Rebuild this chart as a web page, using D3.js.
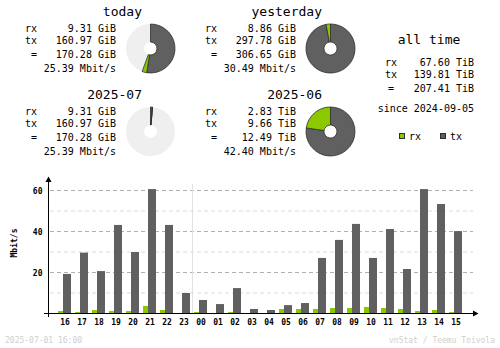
<!DOCTYPE html>
<html>
<head>
<meta charset="utf-8">
<script src="https://cdn.jsdelivr.net/npm/d3@7"></script>
<style>
  html, body { margin: 0; padding: 0; background: #fff; }
  svg { display: block; }
  text { font-family: "DejaVu Sans Mono", "Liberation Mono", monospace; fill: #000; }
</style>
</head>
<body>
<svg id="chart" width="500" height="348"></svg>
<script>
// ---- summary data (GiB unless noted) ----
const periodTitles = ["today", "yesterday", "2025-07", "2025-06"];
const periodRxGiB  = [9.31, 8.86, 9.31, 2.83 * 1024];
const periodTxGiB  = [160.97, 297.78, 160.97, 9.66 * 1024];
const periodRxText = ["9.31 GiB", "8.86 GiB", "9.31 GiB", "2.83 TiB"];
const periodTxText = ["160.97 GiB", "297.78 GiB", "160.97 GiB", "9.66 TiB"];
const periodTotText = ["170.28 GiB", "306.65 GiB", "170.28 GiB", "12.49 TiB"];
const periodRate   = ["25.39 Mbit/s", "30.49 Mbit/s", "25.39 Mbit/s", "42.40 Mbit/s"];

const allTimeRows = ["67.60 TiB", "139.81 TiB", "207.41 TiB"];
const sinceText = "since 2024-09-05";

// ---- hourly data (Mbit/s) ----
const hours = ["16","17","18","19","20","21","22","23","00","01","02","03",
               "04","05","06","07","08","09","10","11","12","13","14","15"];
const hourRx = [1.2, 0.7, 1.7, 1.2, 1.2, 3.7, 1.7, 0.1, 0.7, 0.1, 0.7, 0.1,
                0.1, 2.2, 2.2, 2.2, 2.7, 2.7, 3.2, 2.7, 2.2, 1.2, 1.7, 0.7];
const hourTx = [19.3, 29.7, 20.7, 43.2, 30.0, 60.7, 43.2, 10.0, 6.6, 4.6, 12.4, 2.2,
                1.7, 4.1, 5.1, 27.1, 35.9, 43.7, 27.1, 41.2, 21.7, 60.7, 53.4, 40.2];
const yTicks = [20, 40, 60];
const yMinorTicks = [10, 30, 50];

const footerLeft = "2025-07-01 16:00";
const footerRight = "vnStat / Teemu Toivola";

const RX = "#8cc800", TX = "#606060", EDGE = "#2e2e2e", PIE_BG = "#efefef";

const svg = d3.select("#chart");

// ---- summary blocks with donut pies ----
const blockPos = [[0, 0], [180, 0], [0, 83], [180, 83]];
const arc = d3.arc().innerRadius(6.5).outerRadius(24.5);

function drawBlock(i, maxTotal) {
  const [dx, dy] = blockPos[i];
  const g = svg.append("g").attr("transform", `translate(${dx},${dy})`);
  g.append("text").attr("x", 142).attr("y", 16).attr("text-anchor", "end")
    .style("font-size", "13px").text(periodTitles[i]);
  const rows = [["rx", periodRxText[i], 32], ["tx", periodTxText[i], 44], ["=", periodTotText[i], 58]];
  rows.forEach(([lab, val, y]) => {
    g.append("text").attr("x", lab === "=" ? 31 : 25).attr("y", y).style("font-size", "10px").text(lab);
    g.append("text").attr("x", 116).attr("y", y).attr("text-anchor", "end").style("font-size", "10px").text(val);
  });
  g.append("text").attr("x", 116).attr("y", 72).attr("text-anchor", "end").style("font-size", "10px").text(periodRate[i]);

  // donut: tx first from 12 o'clock, then rx; full circle = larger of the pair
  const k = 2 * Math.PI / maxTotal;
  const tx = periodTxGiB[i], rx = periodRxGiB[i];
  const pg = g.append("g").attr("transform", "translate(150.5,48.5)");
  pg.append("path").attr("d", arc({startAngle: 0, endAngle: 2 * Math.PI})).attr("fill", PIE_BG);
  pg.append("path").attr("d", arc({startAngle: 0, endAngle: tx * k}))
    .attr("fill", TX).attr("stroke", EDGE).attr("stroke-width", 0.8);
  pg.append("path").attr("d", arc({startAngle: tx * k, endAngle: (tx + rx) * k}))
    .attr("fill", RX).attr("stroke", EDGE).attr("stroke-width", 0.8);
}
const totals = periodRxGiB.map((r, i) => r + periodTxGiB[i]);
const dayMax = Math.max(totals[0], totals[1]);
const monthMax = Math.max(totals[2], totals[3]);
drawBlock(0, dayMax);
drawBlock(1, dayMax);
drawBlock(2, monthMax);
drawBlock(3, monthMax);

// ---- all time ----
svg.append("text").attr("x", 429).attr("y", 44).attr("text-anchor", "middle")
  .style("font-size", "13px").text("all time");
[["rx", 385, 66], ["tx", 385, 77.5], ["=", 388, 91.5]].forEach(([lab, x, y], j) => {
  svg.append("text").attr("x", x).attr("y", y).style("font-size", "10px").text(lab);
  svg.append("text").attr("x", 474).attr("y", y).attr("text-anchor", "end")
    .style("font-size", "10px").text(allTimeRows[j]);
});
svg.append("text").attr("x", 474).attr("y", 112).attr("text-anchor", "end")
  .style("font-size", "10px").text(sinceText);

// legend
[["rx", RX, 399.5], ["tx", TX, 440.5]].forEach(([lab, col, x]) => {
  svg.append("rect").attr("x", x).attr("y", 133.5).attr("width", 5).attr("height", 5)
    .attr("fill", col).attr("stroke", EDGE).attr("stroke-width", 1);
  svg.append("text").attr("x", x + 9.5).attr("y", 139.5).style("font-size", "10px").text(lab);
});

// ---- hourly bar chart ----
const x = d3.scaleBand().domain(hours).range([56.5, 56.5 + 24 * 17]).padding(0);
const y = d3.scaleLinear().domain([0, 60]).range([313.5, 190.5]);
const chart = svg.append("g");

// grid
chart.selectAll("line.minor").data(yMinorTicks).join("line")
  .attr("x1", 50).attr("x2", 473).attr("y1", d => y(d)).attr("y2", d => y(d))
  .attr("stroke", "#dcdcdc").attr("stroke-dasharray", "4,3");
chart.selectAll("line.major").data(yTicks).join("line")
  .attr("x1", 50).attr("x2", 473).attr("y1", d => y(d)).attr("y2", d => y(d))
  .attr("stroke", "#b0b0b0").attr("stroke-dasharray", "4,3");

// day boundary separator
const sepX = (x("23") + x("00") + x.bandwidth()) / 2;
chart.append("line").attr("x1", sepX).attr("x2", sepX).attr("y1", 184).attr("y2", 313)
  .attr("stroke", "#e2e2e2");

// bars
const cx = h => x(h) + x.bandwidth() / 2;
chart.selectAll("rect.rx").data(hours).join("rect")
  .attr("x", h => cx(h) - 7).attr("width", 5)
  .attr("y", (h, i) => y(hourRx[i])).attr("height", (h, i) => y(0) - y(hourRx[i]))
  .attr("fill", RX);
chart.selectAll("rect.tx").data(hours).join("rect")
  .attr("x", h => cx(h) - 2).attr("width", 8)
  .attr("y", (h, i) => y(hourTx[i])).attr("height", (h, i) => y(0) - y(hourTx[i]))
  .attr("fill", TX);

// axes
const axisG = chart.append("g").attr("transform", `translate(0,${y(0)})`)
  .call(d3.axisBottom(x).tickSize(0).tickPadding(6));
axisG.select(".domain").remove();
axisG.selectAll("text").style("font-size", "8px").style("font-weight", "bold")
  .style("font-family", "'DejaVu Sans Mono', monospace").attr("fill", "#000");

const yAxisG = chart.append("g").attr("transform", "translate(48.5,0)")
  .call(d3.axisLeft(y).tickValues(yTicks).tickSize(0).tickPadding(6));
yAxisG.select(".domain").remove();
yAxisG.selectAll("text").style("font-size", "8px").style("font-weight", "bold")
  .style("font-family", "'DejaVu Sans Mono', monospace").attr("fill", "#000");

chart.append("line").attr("x1", 48.5).attr("x2", 48.5).attr("y1", 180).attr("y2", 317).attr("stroke", "#000");
chart.append("line").attr("x1", 44).attr("x2", 476).attr("y1", 313.5).attr("y2", 313.5).attr("stroke", "#000");
chart.append("path").attr("d", "M45.5,182 L48.5,176.5 L51.5,182 Z").attr("fill", "#000");
chart.append("path").attr("d", "M473,310.5 L478.5,313.5 L473,316.5 Z").attr("fill", "#000");

chart.append("text").attr("transform", "translate(17,243) rotate(-90)")
  .attr("text-anchor", "middle").style("font-size", "8px").style("font-weight", "bold")
  .text("Mbit/s");

// footer
svg.append("text").attr("x", 5).attr("y", 343).style("font-size", "8px").style("fill", "#cfcfcf").text(footerLeft);
svg.append("text").attr("x", 495).attr("y", 343).attr("text-anchor", "end")
  .style("font-size", "8px").style("fill", "#cfcfcf").text(footerRight);
</script>
</body>
</html>
